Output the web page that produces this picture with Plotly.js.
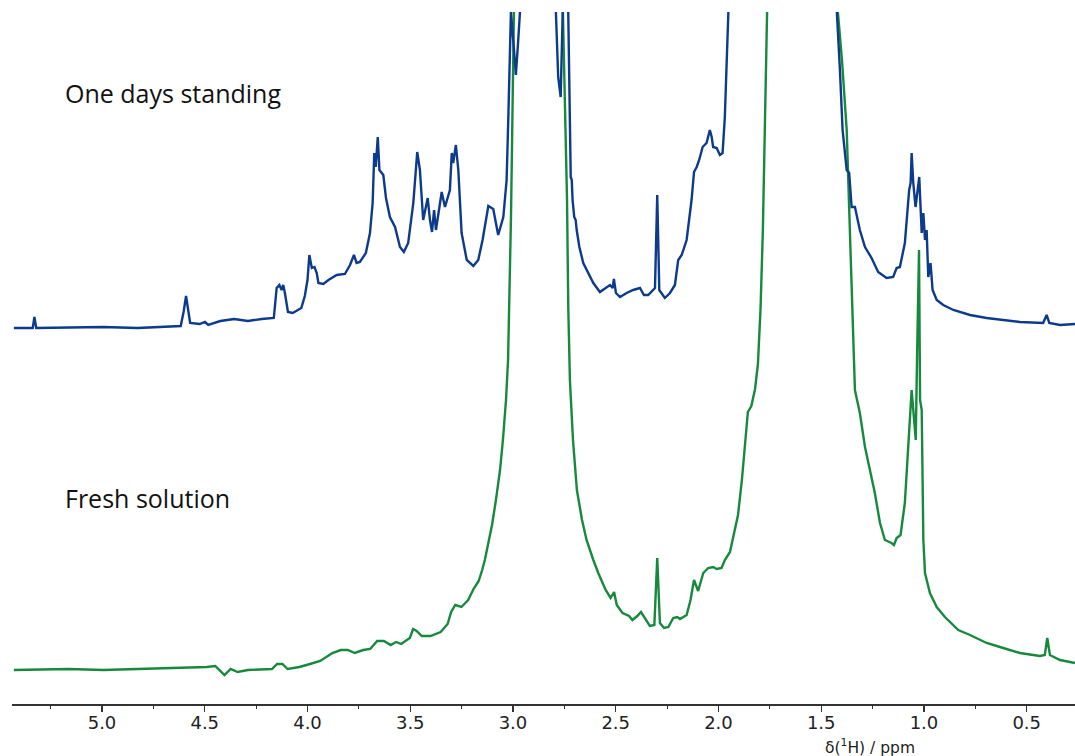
<!DOCTYPE html>
<html>
<head>
<meta charset="utf-8">
<script src="https://cdn.plot.ly/plotly-3.0.1.min.js"></script>
<style>html,body{margin:0;padding:0;background:#fff;}#chart{width:1075px;height:756px;}</style>
</head>
<body>
<div id="chart"></div>
<script>
// Fresh solution (green), chemical shift (ppm) and intensity above its own baseline
const freshPpm = [5.429,5.161,4.994,4.826,4.591,4.491,4.449,4.404,4.374,4.340,4.290,4.173,4.148,4.122,4.097,4.039,3.988,3.938,3.879,3.838,3.804,3.770,3.729,3.695,3.661,3.628,3.595,3.569,3.544,3.502,3.486,3.469,3.444,3.402,3.352,3.318,3.301,3.281,3.251,3.218,3.192,3.167,3.150,3.137,3.122,3.102,3.083,3.063,3.049,3.034,3.024,3.017,3.010,3.005,3.000,2.995,2.87,2.757,2.747,2.737,2.731,2.723,2.708,2.689,2.664,2.642,2.609,2.585,2.549,2.525,2.508,2.495,2.467,2.435,2.419,2.395,2.377,2.358,2.334,2.312,2.298,2.285,2.265,2.244,2.220,2.201,2.187,2.155,2.136,2.119,2.099,2.074,2.050,2.026,2.009,1.985,1.969,1.944,1.931,1.905,1.886,1.871,1.857,1.840,1.822,1.808,1.795,1.784,1.774,1.758,1.59,1.419,1.399,1.376,1.360,1.348,1.344,1.336,1.312,1.287,1.263,1.239,1.214,1.190,1.158,1.146,1.133,1.114,1.093,1.076,1.060,1.052,1.040,1.033,1.024,1.019,1.011,1.003,0.995,0.971,0.938,0.898,0.833,0.776,0.695,0.630,0.533,0.436,0.412,0.400,0.387,0.338,0.265];
const freshInt = [4,5,4,5,6,7,8,-1,5,2,4,5,10,10,5,7,10,13,21,24,24,21,24,25,33,33,29,32,30,36,45,43,38,38,42,50,62,69,67,74,85,93,104,114,129,149,174,204,234,274,314,374,454,524,594,662,2500,661,574,474,367,294,234,184,154,134,114,101,84,76,82,69,61,58,54,58,62,56,48,49,116,51,46,47,56,57,55,59,74,94,83,101,106,107,105,106,114,122,134,159,194,234,262,268,285,310,367,444,524,661,2500,662,614,544,434,367,330,284,261,227,204,181,151,134,131,129,136,139,171,234,284,264,234,324,424,274,264,134,101,81,67,57,44,39,31,27,21,18,19,36,19,14,11];

// One days standing (blue)
const standPpm = [5.429,5.337,5.329,5.320,4.994,4.826,4.617,4.603,4.591,4.581,4.571,4.525,4.499,4.483,4.424,4.357,4.290,4.223,4.164,4.150,4.137,4.126,4.118,4.110,4.095,4.072,4.030,4.013,4.000,3.991,3.979,3.966,3.955,3.947,3.923,3.898,3.858,3.818,3.793,3.774,3.761,3.745,3.716,3.696,3.683,3.675,3.668,3.658,3.650,3.631,3.618,3.599,3.574,3.550,3.531,3.510,3.485,3.466,3.453,3.437,3.415,3.404,3.394,3.384,3.375,3.355,3.347,3.331,3.307,3.298,3.291,3.278,3.266,3.250,3.225,3.193,3.169,3.148,3.120,3.096,3.072,3.047,3.031,3.023,3.010,2.995,2.986,2.976,2.966,2.88,2.791,2.780,2.768,2.758,2.745,2.731,2.726,2.719,2.714,2.710,2.702,2.695,2.690,2.677,2.658,2.634,2.609,2.577,2.544,2.528,2.515,2.509,2.499,2.479,2.447,2.415,2.382,2.363,2.342,2.309,2.298,2.288,2.261,2.236,2.212,2.196,2.179,2.155,2.131,2.119,2.106,2.094,2.077,2.058,2.042,2.033,2.026,2.009,1.993,1.980,1.969,1.960,1.952,1.69,1.424,1.409,1.396,1.376,1.364,1.352,1.336,1.312,1.287,1.255,1.223,1.182,1.150,1.133,1.117,1.093,1.081,1.072,1.065,1.060,1.052,1.041,1.023,1.016,1.011,1.003,0.995,0.987,0.979,0.968,0.958,0.938,0.906,0.857,0.776,0.695,0.533,0.420,0.403,0.390,0.338,0.265];
const standInt = [2,2,13,2,3,2,4,18,34,18,7,6,8,5,9,11,9,11,12,42,45,40,45,37,18,17,22,34,50,75,62,63,57,47,46,50,55,56,65,75,67,68,77,97,127,177,163,193,160,155,132,113,103,83,78,87,127,178,160,110,132,110,98,120,100,127,138,123,140,177,167,185,160,97,70,64,70,90,124,121,95,113,150,210,318,280,255,285,318,1500,317,253,233,317,600,317,230,153,150,130,113,110,100,83,67,57,47,38,43,45,42,51,37,33,37,40,42,35,35,42,135,40,32,37,45,70,75,90,130,158,163,170,183,187,200,193,183,182,175,177,213,263,317,2500,318,260,200,160,157,123,123,100,83,72,58,52,53,62,63,87,113,140,147,177,147,123,153,123,97,117,90,100,53,67,40,30,25,20,15,12,8,7,15,7,5,6];

const tickVals = [5.0,4.5,4.0,3.5,3.0,2.5,2.0,1.5,1.0,0.5];
const tickText = ['5.0','4.5','4.0','3.5','3.0','2.5','2.0','1.5','1.0','0.5'];
const labels = ['One days standing','Fresh solution'];
const axisTitle = 'δ(<sup>1</sup>H) / ppm';

const freshOffset = 30, standOffset = 374;

const traces = [
  {x: freshPpm, y: freshInt.map(v => v + freshOffset), type: 'scatter', mode: 'lines',
   line: {color: '#17893c', width: 2.4}, hoverinfo: 'skip'},
  {x: standPpm, y: standInt.map(v => v + standOffset), type: 'scatter', mode: 'lines',
   line: {color: '#0c3a8d', width: 2.4}, hoverinfo: 'skip'}
];

const layout = {
  width: 1075, height: 756,
  margin: {l: 12, r: 0, t: 12, b: 52},
  paper_bgcolor: '#fff', plot_bgcolor: '#fff',
  showlegend: false,
  xaxis: {
    range: [5.438, 0.265], showgrid: false, zeroline: false,
    showline: true, linecolor: '#333', linewidth: 1.5,
    ticks: 'outside', ticklen: 6, tickwidth: 1.2, tickcolor: '#333',
    tickvals: tickVals, ticktext: tickText, ticklabelstandoff: -4,
    tickfont: {family: 'DejaVu Sans, Verdana, sans-serif', size: 18, color: '#222'},
    minor: {dtick: 0.25, ticks: 'outside', ticklen: 3, tickwidth: 1, tickcolor: '#333', showgrid: false}
  },
  yaxis: {range: [0, 692], visible: false, fixedrange: true},
  annotations: [
    {text: labels[0], xref: 'paper', yref: 'paper', x: 0.048, y: 0.883, xanchor: 'left', yanchor: 'middle',
     showarrow: false, font: {family: 'Open Sans, sans-serif', size: 25, color: '#111'}},
    {text: labels[1], xref: 'paper', yref: 'paper', x: 0.048, y: 0.297, xanchor: 'left', yanchor: 'middle',
     showarrow: false, font: {family: 'Open Sans, sans-serif', size: 25, color: '#111'}},
    {text: axisTitle, xref: 'x', yref: 'paper', x: 1.262, y: -0.062, xanchor: 'center', yanchor: 'middle',
     showarrow: false, font: {family: 'DejaVu Sans, Verdana, sans-serif', size: 15.5, color: '#222'}}
  ]
};

Plotly.newPlot('chart', traces, layout, {staticPlot: true, displayModeBar: false});
</script>
</body>
</html>
